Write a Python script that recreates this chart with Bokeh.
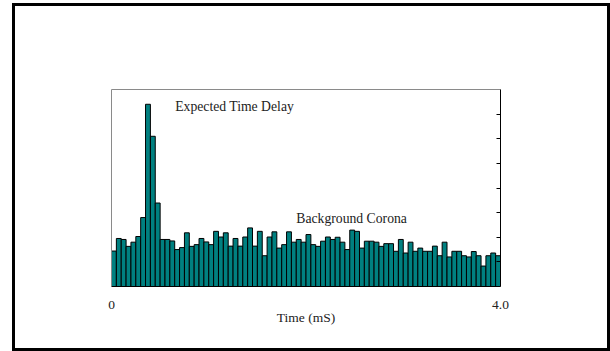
import math
from bokeh.plotting import figure
from bokeh.models import (LinearAxis, Range1d, FixedTicker, Label, ColumnDataSource)
from bokeh.embed import file_html
from bokeh.resources import INLINE

# ---- data ----
bin_width = 0.05  # ms
counts = [14.4, 19.5, 19.1, 16.3, 18.0, 20.3, 28.0, 74.0, 61.0, 33.9,
          19.1, 19.1, 18.5, 15.0, 15.8, 21.8, 16.3, 17.0, 19.5, 18.1,
          17.0, 22.4, 20.1, 21.8, 16.4, 19.5, 16.4, 20.1, 23.8, 16.4,
          22.4, 12.5, 20.1, 22.2, 15.6, 17.0, 22.2, 18.0, 19.1, 18.0,
          21.1, 17.0, 16.3, 18.4, 20.1, 19.1, 20.0, 18.0, 15.0, 22.9,
          22.4, 15.6, 18.4, 18.4, 18.0, 16.3, 17.4, 17.4, 14.3, 19.1,
          13.6, 18.0, 14.3, 15.6, 14.3, 14.3, 16.4, 12.5, 18.0, 12.0,
          14.3, 14.3, 12.5, 12.0, 14.2, 12.5, 8.3, 12.5, 13.6, 12.5]
x_ticks = [0, 4]
x_tick_labels = ["0", "4.0"]
y_ticks = [10, 20, 30, 40, 50, 60, 70]
x_title = "Time (mS)"
y_title = "Count"
y_title_pos = (-0.19, 36.0)
annotations = [("Expected Time Delay", 0.655, 73.0), ("Background Corona", 1.90, 27.6)]

left_edges = [i * bin_width for i in range(len(counts))]
src = ColumnDataSource(dict(left=left_edges,
                            right=[l + bin_width for l in left_edges],
                            top=counts,
                            bottom=[0] * len(counts)))

FONT = "Liberation Serif"
TXT = "#222222"

p = figure(width=592, height=342, output_backend="svg", toolbar_location=None,
           x_axis_type=None, y_axis_type=None,
           x_range=Range1d(0, 4), y_range=Range1d(0, 80),
           min_border_left=96, min_border_right=107,
           min_border_top=83, min_border_bottom=62)
p.styles = {"margin-left": "15px", "margin-top": "6px",
            "outline": "3px solid black", "outline-offset": "0px"}
p.outline_line_color = None
p.xgrid.visible = False
p.ygrid.visible = False
p.background_fill_color = "white"
p.border_fill_color = "white"

p.quad(left="left", right="right", top="top", bottom="bottom", source=src,
       fill_color="#008080", line_color="black", line_width=1)

# bottom axis
xb = LinearAxis(ticker=FixedTicker(ticks=x_ticks),
                major_label_overrides={t: s for t, s in zip(x_ticks, x_tick_labels)},
                axis_label=x_title)
xb.major_tick_line_color = None
xb.minor_tick_line_color = None
xb.axis_line_color = "black"
xb.axis_line_width = 1
xb.major_label_text_font = FONT
xb.major_label_text_font_size = "13.5px"
xb.major_label_text_color = TXT
xb.major_label_standoff = 8
xb.axis_label_text_font = FONT
xb.axis_label_text_font_size = "13.5px"
xb.axis_label_text_font_style = "normal"
xb.axis_label_text_color = TXT
xb.axis_label_standoff = -2
p.add_layout(xb, "below")

# top axis (plain line)
xt = LinearAxis(ticker=FixedTicker(ticks=[]))
xt.major_tick_line_color = None
xt.minor_tick_line_color = None
xt.axis_line_color = "#8a8a8a"
p.add_layout(xt, "above")

# left axis (plain line)
yl = LinearAxis(ticker=FixedTicker(ticks=[]))
yl.major_tick_line_color = None
yl.minor_tick_line_color = None
yl.axis_line_color = "#8a8a8a"
p.add_layout(yl, "left")

# right axis (inward ticks, no labels)
yr = LinearAxis(ticker=FixedTicker(ticks=y_ticks),
                major_label_overrides={t: "" for t in y_ticks})
yr.major_tick_in = 4
yr.major_tick_out = 0
yr.minor_tick_line_color = None
yr.axis_line_color = "black"
yr.major_tick_line_color = "black"
p.add_layout(yr, "right")

# y title
p.add_layout(Label(x=y_title_pos[0], y=y_title_pos[1], text=y_title, angle=math.pi / 2,
                   text_font=FONT, text_font_size="13.5px", text_color=TXT,
                   text_baseline="middle", text_align="center"))

for txt, x, y in annotations:
    p.add_layout(Label(x=x, y=y, text=txt, text_font=FONT, text_font_size="13.7px",
                       text_color=TXT, text_baseline="middle", text_align="left"))

open("out.html", "w").write(file_html(p, INLINE))
